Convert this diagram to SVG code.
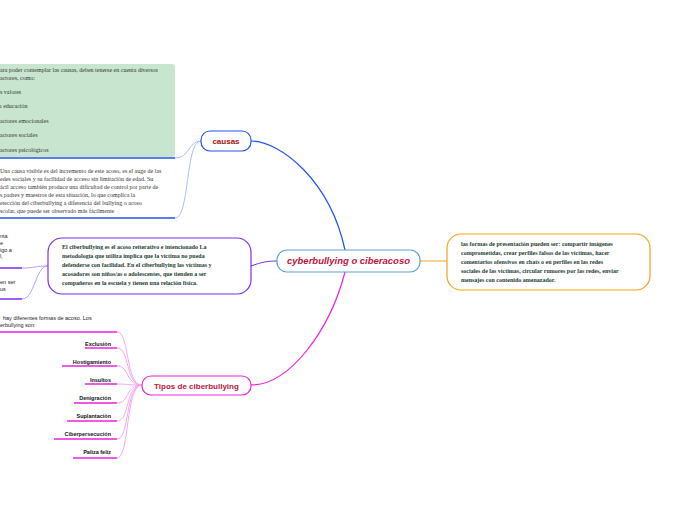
<svg xmlns="http://www.w3.org/2000/svg" width="696" height="520" viewBox="0 0 696 520">
<style>
.s{font-family:"Liberation Serif",serif;font-size:6px;fill:#333}
.b{font-family:"Liberation Serif",serif;font-size:6px;font-weight:bold;fill:#1d4030}
.t{font-family:"Liberation Sans",sans-serif;font-size:5.5px;font-weight:bold;fill:#111;text-anchor:end}
.p{font-family:"Liberation Sans",sans-serif;font-size:5.5px;fill:#222}
.n{fill:#fff;stroke-width:1.2}
.c{fill:none}
</style>
<rect width="696" height="520" fill="#fff"/>
<g id="connectors" class="c">
<path d="M345 250 C330 180 280 141 251 141" stroke="#2255ee" stroke-width="1.2"/>
<path d="M345 272 C330 330 290 385 251 385" stroke="#ee22dd" stroke-width="1.2"/>
<path d="M420 261 L447 261" stroke="#f5a020"/>
<path d="M251 266 C262 262 268 261 277 261" stroke="#7b2ff0"/>
<path d="M201 141 C188 141 190 158 175 158" stroke="#a8c0f8"/>
<path d="M201 141 C185 141 190 218 175 218" stroke="#a8c0f8"/>
<path d="M0 158 H175 M0 218 H175" stroke="#2255ee" stroke-width="1.5"/>
<path d="M48 266 C35 266 35 268 22 268 M48 266 C35 266 35 299 22 299" stroke="#b89cf8"/>
<path d="M0 268 H22 M0 299 H22" stroke="#7b2ff0" stroke-width="1.5"/>
<g stroke="#f5a8f0">
<path d="M142 385 C125 385 130 332 117 332"/>
<path d="M142 385 C125 385 130 348 117 348"/>
<path d="M142 385 C125 385 130 366 117 366"/>
<path d="M142 385 C125 385 130 384 117 384"/>
<path d="M142 385 C125 385 130 403 117 403"/>
<path d="M142 385 C125 385 130 421 117 421"/>
<path d="M142 385 C125 385 130 439 117 439"/>
<path d="M142 385 C125 385 130 458 117 458"/>
</g>
<g stroke="#ee22dd" stroke-width="1.5">
<path d="M0 332 H117 M85 348 H117 M62 366 H117 M85 384 H117 M74 403 H117 M67 421 H117 M54 439 H117 M73 458 H117"/>
</g>
</g>
<g id="central"><rect x="277" y="250" width="143" height="22" rx="10" class="n" stroke="#5aa0d8"/>
<text x="348.5" y="264" text-anchor="middle" font-family="Liberation Sans,sans-serif" font-size="9.5" font-weight="bold" font-style="italic" fill="#c0143c">cyberbullying o ciberacoso</text></g>
<g id="formas"><rect x="447" y="234" width="203" height="56" rx="14" class="n" stroke="#f5a020"/>
<text class="b"><tspan x="461" y="246">las formas de presentación pueden ser: compartir imágenes</tspan><tspan x="461" y="255">comprometidas, crear perfiles falsos de las víctimas, hacer</tspan><tspan x="461" y="264">comentarios ofensivos en chats o en perfiles en las redes</tspan><tspan x="461" y="273">sociales de las víctimas, circular rumores por las redes, enviar</tspan><tspan x="461" y="282">mensajes con contenido amenazador.</tspan></text></g>
<g id="causas"><rect x="201" y="131" width="50" height="20" rx="9" class="n" stroke="#2255ee"/>
<text x="226" y="144" text-anchor="middle" font-family="Liberation Sans,sans-serif" font-size="8" font-weight="bold" fill="#a01010">causas</text></g>
<g id="causas-factores"><rect x="-5" y="64" width="180" height="93" rx="3" fill="#c8e6cf"/>
<text class="s"><tspan x="0" y="72">ara poder contemplar las causas, deben tenerse en cuenta diversos</tspan><tspan x="0" y="80">actores, como:</tspan><tspan x="0" y="94">s valores</tspan><tspan x="0" y="108">ı educación</tspan><tspan x="0" y="123">actores emocionales</tspan><tspan x="0" y="137">actores sociales</tspan><tspan x="0" y="152">actores psicológicos</tspan></text></g>
<g id="causas-visible"><text class="s"><tspan x="0" y="173">Una causa visible es del incremento de este acoso, es el auge de las</tspan><tspan x="0" y="181">edes sociales y su facilidad de acceso sin limitación de edad. Su</tspan><tspan x="0" y="189">ácil acceso también produce una dificultad de control por parte de</tspan><tspan x="0" y="197">s padres y maestros de esta situación, lo que complica la</tspan><tspan x="0" y="205">etección del ciberbullying a diferencia del bullying o acoso</tspan><tspan x="0" y="213">scolar, que puede ser observado más fácilmente</tspan></text></g>
<g id="definicion"><rect x="48" y="238" width="203" height="56" rx="14" class="n" stroke="#7b2ff0"/>
<text class="b"><tspan x="62" y="249">El ciberbullying es el acoso reiterativo e intencionado La</tspan><tspan x="62" y="258">metodología que utiliza implica que la víctima no pueda</tspan><tspan x="62" y="267">defenderse con facilidad. En el ciberbullying las víctimas y</tspan><tspan x="62" y="276">acosadores son niños/as o adolescentes, que tienden a ser</tspan><tspan x="62" y="285">compañeros en la escuela y tienen una relación física.</tspan></text></g>
<g id="def-left"><text class="p"><tspan x="0" y="238">nta</tspan><tspan x="0" y="245">e</tspan><tspan x="0" y="252">igo a</tspan><tspan x="0" y="258">l,</tspan><tspan x="0" y="284">en ser</tspan><tspan x="0" y="291">us</tspan></text></g>
<g id="tipos"><rect x="142" y="376" width="109" height="19" rx="9" class="n" stroke="#ee22dd"/>
<text x="196.5" y="388.5" text-anchor="middle" font-family="Liberation Sans,sans-serif" font-size="8" font-weight="bold" fill="#c0143c">Tipos de ciberbullying</text></g>
<g id="tipos-hijos">
<text class="p"><tspan x="3" y="320">hay diferentes formas de acoso. Los</tspan><tspan x="0" y="327">erbullying son:</tspan></text>
<text class="t" x="111" y="346">Exclusión</text>
<text class="t" x="111" y="364">Hostigamiento</text>
<text class="t" x="111" y="382">Insultos</text>
<text class="t" x="111" y="400">Denigración</text>
<text class="t" x="111" y="418">Suplantación</text>
<text class="t" x="111" y="436">Ciberpersecución</text>
<text class="t" x="111" y="454">Paliza feliz</text>
</g>
</svg>
